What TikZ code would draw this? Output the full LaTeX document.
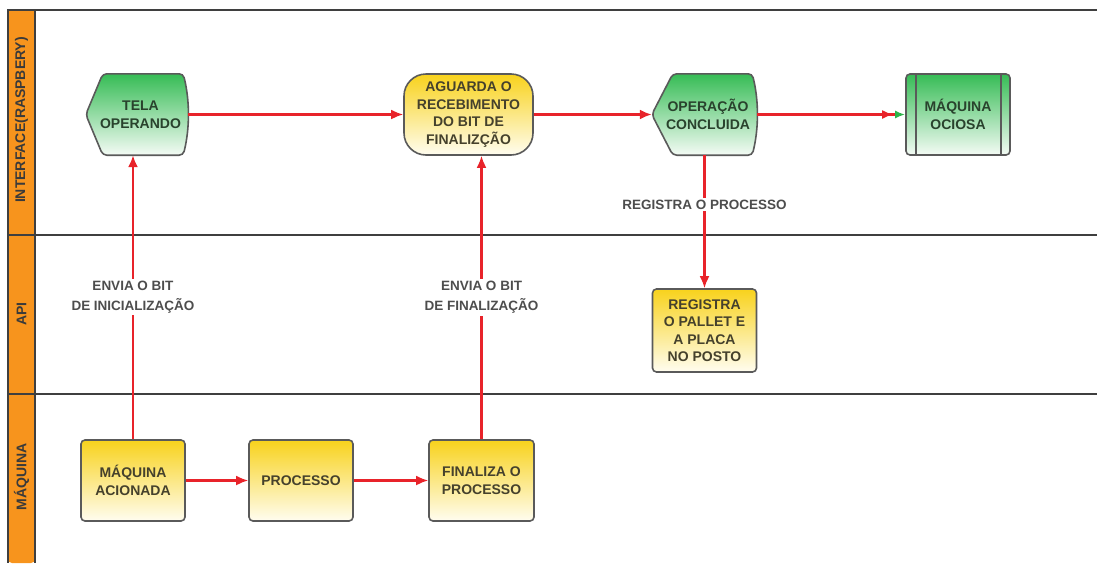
\documentclass[tikz,border=0pt]{standalone}
\usepackage{fontspec}
\setmainfont{Liberation Sans}
\usetikzlibrary{arrows.meta,backgrounds,calc}

\definecolor{frameline}{HTML}{3F3F3F}
\definecolor{laneorange}{HTML}{F7941D}
\definecolor{flowred}{HTML}{E8232A}
\definecolor{boxedge}{HTML}{5A5A5A}
\definecolor{greentop}{HTML}{36BC55}
\definecolor{greenmid}{HTML}{86D494}
\definecolor{greenbot}{HTML}{F4FBF5}
\definecolor{yellowtop}{HTML}{F8D21C}
\definecolor{yellowmid}{HTML}{FBE88E}
\definecolor{yellowbot}{HTML}{FFFDF0}
\definecolor{greentext}{HTML}{29422D}
\definecolor{yellowtext}{HTML}{45412C}
\definecolor{labeltext}{HTML}{4D4D4D}
\definecolor{lanetext}{HTML}{3A3A3A}
\definecolor{tipgreen}{HTML}{2DB34A}

% outline of a "display" symbol: pointed left side, bulging right side
\newcommand\displayoutline[2]{%
  (#1.west) -- ($(#1.north west)+(#2,0)$) -- ($(#1.north east)+(-5,0)$)
  .. controls ($(#1.north east)+(1.67,27)$) and ($(#1.south east)+(1.67,-27)$)
  .. ($(#1.south east)+(-5,0)$) -- ($(#1.south west)+(#2,0)$) -- cycle}

\tikzset{
  boxfont/.style={font=\fontsize{14}{17.5}\selectfont\bfseries},
  basebox/.style={boxfont, inner sep=0pt, align=center,
    minimum width=#1, minimum height=81pt},
  greenshade/.style={top color=greentop, middle color=greenmid, bottom color=greenbot},
  yellowshade/.style={top color=yellowtop, middle color=yellowmid, bottom color=yellowbot},
  outline/.style={draw=boxedge, line width=1.6pt},
  yellowbox/.style={basebox=#1, yellowshade, outline, rounded corners=4pt, text=yellowtext},
  greenbox/.style={basebox=#1, greenshade, outline, rounded corners=4pt, text=greentext},
  displaybox/.style={basebox=#1, text=greentext},
  terminal/.style={basebox=#1, yellowshade, outline, rounded corners=22pt, text=yellowtext},
  flow/.style={draw=flowred, line width=2.2pt, -{Latex[length=12pt,width=10pt]}},
  flowlabel/.style={fill=white, inner sep=2pt, align=center, text=labeltext,
    font=\fontsize{13.5}{20}\selectfont\bfseries},
  lanelabel/.style={rotate=90, text=lanetext, font=\fontsize{14}{16}\selectfont\bfseries},
  lanerule/.style={draw=frameline, line width=2pt},
}

\begin{document}
\begin{tikzpicture}[x=1pt, y=-1pt]
\useasboundingbox (0,0) rectangle (1097,563);

% swimlane frame
\fill[laneorange, rounded corners=4pt] (8,563) -- (8,10) -- (35,10) -- (35,563) -- cycle;
\draw[lanerule] (1097,10) -- (8,10) -- (8,563);
\draw[lanerule] (35,10) -- (35,563);
\draw[lanerule] (8,235) -- (1097,235);
\draw[lanerule] (8,394) -- (1097,394);

\node[lanelabel] (laneui)  at (21.5,120) {INTERFACE(RASPBERY)};
\node[lanelabel] (laneapi) at (21.5,314) {API};
\node[lanelabel] (lanemq)  at (21.5,477) {MÁQUINA};

% interface lane
\node[displaybox=102pt] (tela) at (137,114.5) {\hspace*{7pt}TELA\\\hspace*{7pt}OPERANDO};
\node[terminal=129pt] (aguarda) at (468.5,114.5) {AGUARDA O\\RECEBIMENTO\\DO BIT DE\\FINALIZÇÃO};
\node[displaybox=105pt] (concluida) at (704.5,114.5) {\hspace*{7pt}OPERAÇÃO\\\hspace*{7pt}CONCLUIDA};
\node[greenbox=104pt] (ociosa) at (958,114.5) {MÁQUINA\\OCIOSA};
\draw[boxedge, line width=1.6pt]
  ($(ociosa.north west)+(11,0)$) -- ($(ociosa.south west)+(11,0)$)
  ($(ociosa.north east)+(-10,0)$) -- ($(ociosa.south east)+(-10,0)$);

\begin{pgfonlayer}{background}
  \path[greenshade, outline, rounded corners=4pt] \displayoutline{tela}{17};
  \path[greenshade, outline, rounded corners=4pt] \displayoutline{concluida}{21};
\end{pgfonlayer}

% api lane
\node[yellowbox=104pt, minimum height=83pt] (registra) at (704.5,330.5)
  {REGISTRA\\O PALLET E\\A PLACA\\NO POSTO};

% machine lane
\node[yellowbox=104pt] (acionada) at (133,480.5) {MÁQUINA\\ACIONADA};
\node[yellowbox=104pt] (processo) at (301,480.5) {PROCESSO};
\node[yellowbox=105pt] (finaliza) at (481.5,480.5) {FINALIZA O\\PROCESSO};

% connectors
\draw[flow] (tela.east) -- (aguarda.west);
\draw[flow] (aguarda.east) -- (concluida.west);
\draw[flow, -{Latex[length=11pt,width=9pt,sep=2pt] Latex[length=10pt,width=8pt,color=tipgreen]}]
  (concluida.east) -- (ociosa.west);
\draw[flow] (concluida.south) -- node[flowlabel, pos=0.37] (lblreg) {REGISTRA O PROCESSO} (registra.north);
\draw[flow] (acionada.north) -- node[flowlabel, pos=0.5] (lblini) {ENVIA O BIT\\DE INICIALIZAÇÃO} (acionada.north |- tela.south);
\draw[flow] (finaliza.north) -- node[flowlabel, pos=0.5] (lblfin) {ENVIA O BIT\\DE FINALIZAÇÃO} (finaliza.north |- aguarda.south);
\draw[flow] (acionada.east) -- (processo.west);
\draw[flow] (processo.east) -- (finaliza.west);
\end{tikzpicture}
\end{document}
